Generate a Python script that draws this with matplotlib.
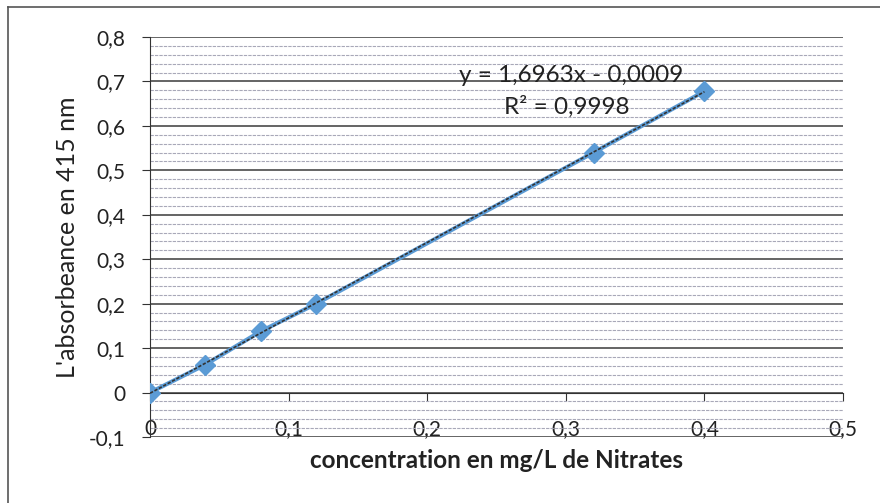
import numpy as np
import matplotlib.pyplot as plt
from matplotlib.ticker import MultipleLocator, FuncFormatter
from matplotlib.lines import Line2D

plt.rcParams['font.family'] = ['Lato', 'DejaVu Sans']

# calibration data (nitrates)
conc = [0, 0.04, 0.08, 0.12, 0.32, 0.4]
absorb = [0, 0.063, 0.138, 0.200, 0.540, 0.678]

eq_text = "y = 1,6963x - 0,0009"
r2_text = "R² = 0,9998"

fig = plt.figure(figsize=(8.8, 5.03), dpi=100)
ax = fig.add_axes([0.1705, 0.1312, 0.7875, 0.7952])

ax.set_xlim(0, 0.5)
ax.set_ylim(-0.1, 0.8)

ax.yaxis.set_major_locator(MultipleLocator(0.1))
ax.yaxis.set_minor_locator(MultipleLocator(0.02))
ax.xaxis.set_major_locator(MultipleLocator(0.1))
comma = FuncFormatter(lambda v, p: ('%g' % round(v, 2)).replace('.', ','))
ax.xaxis.set_major_formatter(comma)
ax.yaxis.set_major_formatter(comma)

ax.grid(which='major', axis='y', color='#3a3a3a', lw=1.1)
ax.grid(which='minor', axis='y', color='#a8a8b8', lw=0.8, ls=(0, (3, 1)))
ax.set_axisbelow(True)

for s in ['top', 'right']:
    ax.spines[s].set_visible(False)
ax.spines['left'].set_color('#333333')
ax.spines['bottom'].set_position(('data', 0))
ax.spines['bottom'].set_color('#333333')

ax.tick_params(axis='y', which='major', direction='out', length=6, color='#333333',
               labelsize=15, pad=12, labelcolor='#222222')
ax.tick_params(axis='y', which='minor', length=0)
ax.tick_params(axis='x', direction='out', length=6, color='#333333',
               labelsize=15, pad=13, labelcolor='#222222')

# series
ax.plot(conc, absorb, color='#5b9bd5', lw=3, marker='D', ms=10,
        markerfacecolor='#5b9bd5', markeredgecolor='#5b9bd5', zorder=3)

# linear trendline
a, b = np.polyfit(conc, absorb, 1)
xt = np.array([min(conc), max(conc)])
ax.plot(xt, a * xt + b, color='#333333', lw=1.2, ls=(0, (2, 1)), zorder=4)

ax.text(0.304, 0.714, eq_text, ha='center', va='center', fontsize=17.5, color='#222222')
ax.text(0.301, 0.644, r2_text, ha='center', va='center', fontsize=17.5, color='#222222')

ax.set_ylabel("L'absorbeance en 415 nm", fontsize=18, labelpad=7, color='#222222')
ax.set_xlabel("concentration en mg/L de Nitrates", fontsize=17.5, fontweight='bold',
              labelpad=7, color='#222222')

# chart frame (left and top edges visible in the scan)
fig.add_artist(Line2D([8 / 880, 1], [1 - 7 / 503, 1 - 7 / 503], transform=fig.transFigure,
                      color='#555555', lw=1.2))
fig.add_artist(Line2D([8 / 880, 8 / 880], [0, 1 - 7 / 503], transform=fig.transFigure,
                      color='#555555', lw=1.2))

fig.savefig('out.png', dpi=100)
